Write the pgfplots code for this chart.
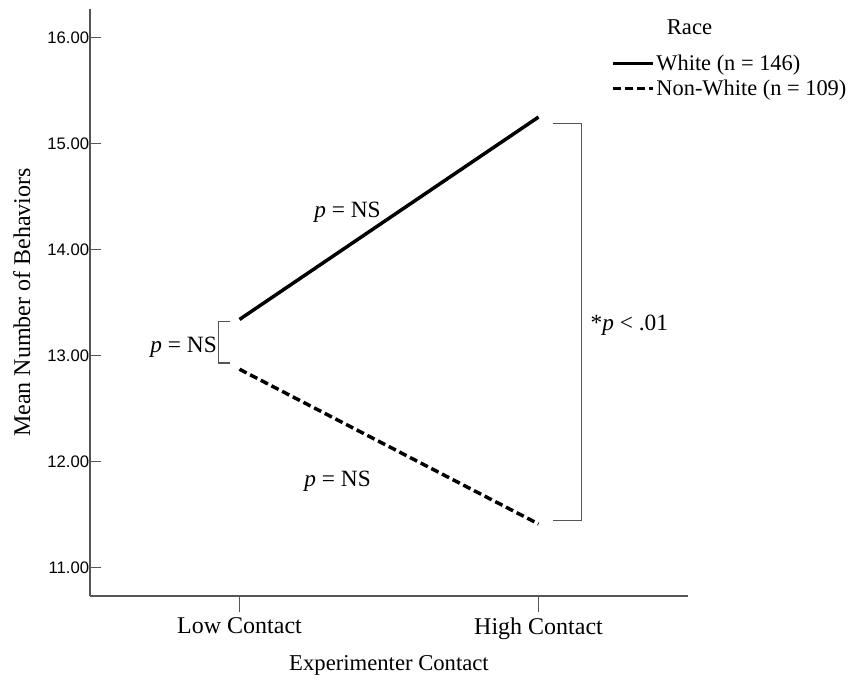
\documentclass[border=0pt]{standalone}
\usepackage{fontspec}
\setmainfont{Liberation Serif}
\setsansfont{Liberation Sans}
\usepackage{pgfplots}
\pgfplotsset{compat=1.18}
\definecolor{axgray}{HTML}{555555}
\begin{document}
\begin{tikzpicture}
\useasboundingbox (-67.5pt,-63.75pt) rectangle (572.25pt,447pt);
\begin{axis}[
  scale only axis,
  width=448.5pt, height=440.25pt,
  xmin=-0.5, xmax=1.5,
  ymin=10.73, ymax=16.27,
  axis x line*=bottom, axis y line*=left,
  axis line style={axgray, line width=1pt},
  xtick={0,1}, xticklabels={Low Contact, High Contact},
  ytick={11,12,13,14,15,16},
  tick align=inside,
  major tick length=8pt,
  xtick style={axgray, line width=1pt, yshift=-12pt, /pgfplots/major tick length=12pt},
  ytick style={axgray, line width=1pt},
  yticklabel style={font=\sffamily\fontsize{12.5}{14}\selectfont, inner sep=0.5pt, /pgf/number format/fixed, /pgf/number format/fixed zerofill, /pgf/number format/precision=2, /pgf/number format/assume math mode=true},
  xticklabel style={font=\fontsize{18}{20}\selectfont, yshift=-13pt},
  xlabel={Experimenter Contact},
  ylabel={Mean Number of Behaviors},
  xlabel style={font=\fontsize{17}{19}\selectfont, at={(axis description cs:0.5,-0.1175)}, anchor=center},
  ylabel style={font=\fontsize{18}{20}\selectfont, at={(axis description cs:-0.114,0.5)}, anchor=center},
  clip=false,
  legend cell align=left,
  legend style={at={(axis description cs:0.871,0.926)}, anchor=north west, draw=none, fill=none,
    font=\fontsize{16.8}{19}\selectfont, row sep=2.5pt, inner sep=0pt,
    nodes={inner sep=1.5pt}},
  legend image code/.code={\draw[#1] (0cm,0cm) -- (1.05cm,0cm);},
]
\addplot[black, line width=2.6pt] coordinates {(0,13.34) (1,15.25)};
\addlegendentry{White (n = 146)}
\addplot[black, line width=2.6pt, dash pattern=on 6pt off 3pt] coordinates {(0,12.87) (1,11.41)};
\addlegendentry{Non-White (n = 109)}
% brackets
\draw[axgray, line width=1pt] (axis cs:-0.033,13.32) -- (axis cs:-0.070,13.32) -- (axis cs:-0.070,12.93) -- (axis cs:-0.033,12.93);
\draw[axgray, line width=1pt] (axis cs:1.047,15.19) -- (axis cs:1.144,15.19) -- (axis cs:1.144,11.44) -- (axis cs:1.047,11.44);
% annotations
\node[font=\fontsize{17.5}{20}\selectfont] at (axis cs:0.361,14.35) {\textit{p} = NS};
\node[font=\fontsize{17.5}{20}\selectfont] at (axis cs:-0.187,13.08) {\textit{p} = NS};
\node[font=\fontsize{17.5}{20}\selectfont] at (axis cs:0.328,11.81) {\textit{p} = NS};
\node[font=\fontsize{17.5}{20}\selectfont] at (axis cs:1.304,13.29) {*\textit{p} < .01};
\node[font=\fontsize{17}{19}\selectfont] at (axis cs:1.505,16.10) {Race};
\end{axis}
\end{tikzpicture}
\end{document}
